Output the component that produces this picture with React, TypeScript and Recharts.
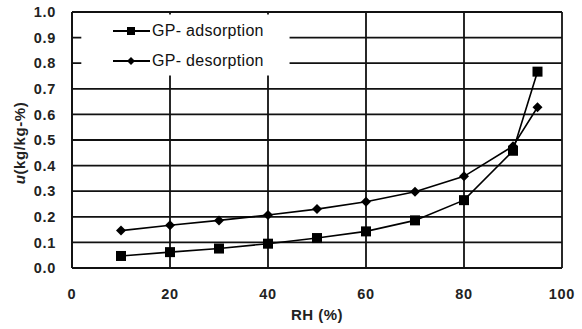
import React from 'react';
import { LineChart, Line, XAxis, YAxis, CartesianGrid, ReferenceArea } from 'recharts';

const rhValues = [10, 20, 30, 40, 50, 60, 70, 80, 90, 95];
const adsorption = [0.047, 0.062, 0.076, 0.095, 0.117, 0.143, 0.186, 0.265, 0.458, 0.767];
const desorption = [0.146, 0.167, 0.186, 0.207, 0.23, 0.259, 0.298, 0.358, 0.476, 0.628];
const xTicks = [0, 20, 40, 60, 80, 100];
const yTicks = [0, 0.1, 0.2, 0.3, 0.4, 0.5, 0.6, 0.7, 0.8, 0.9, 1.0];
const seriesNames = ['GP- adsorption', 'GP- desorption'];

const data = rhValues.map((rh, i) => ({ rh, ads: adsorption[i], des: desorption[i] }));

const FONT = '"Liberation Sans", Arial, sans-serif';

const SquareDot = (props: any) => {
  const { cx, cy, index } = props;
  if (cx == null || cy == null) return <g key={`s${index}`} />;
  return <rect key={`s${index}`} x={cx - 5} y={cy - 5} width={10} height={10} fill="#000" />;
};

const DiamondDot = (props: any) => {
  const { cx, cy, index } = props;
  if (cx == null || cy == null) return <g key={`d${index}`} />;
  const r = 5;
  return (
    <path
      key={`d${index}`}
      d={`M${cx},${cy - r} L${cx + r},${cy} L${cx},${cy + r} L${cx - r},${cy} Z`}
      fill="#000"
    />
  );
};

const tickStyle = { fill: '#222', fontSize: 14.5, fontWeight: 'bold', fontFamily: FONT, letterSpacing: 0.7 };

const LegendBox = () => (
  <div
    style={{
      position: 'absolute',
      left: 112,
      top: 16,
      fontFamily: FONT,
      fontSize: 16,
      letterSpacing: 0.3,
      color: '#111',
      pointerEvents: 'none',
    }}
  >
    {seriesNames.map((name, i) => (
      <div key={name} style={{ display: 'flex', alignItems: 'center', height: 30 }}>
        <svg width={38} height={14} style={{ marginRight: 2 }}>
          <line x1={1} y1={7} x2={38} y2={7} stroke="#000" strokeWidth={1.8} />
          {i === 0 ? (
            <rect x={15} y={3} width={8} height={8} fill="#000" />
          ) : (
            <path d="M19,3 L23,7 L19,11 L15,7 Z" fill="#000" />
          )}
        </svg>
        <span>{name}</span>
      </div>
    ))}
  </div>
);

export default function App() {
  return (
    <div style={{ position: 'absolute', left: 0, top: 0, width: 582, height: 329, background: '#fff' }}>
      <LineChart
        width={582}
        height={329}
        data={data}
        margin={{ top: 12, right: 20, bottom: 0, left: 12 }}
      >
        <CartesianGrid stroke="#111" strokeWidth={1.8} />
        <XAxis
          dataKey="rh"
          type="number"
          domain={[0, 100]}
          ticks={xTicks}
          height={61}
          tickSize={0}
          tickMargin={21}
          axisLine={{ stroke: '#111', strokeWidth: 1.8 }}
          tick={tickStyle}
          label={{
            value: 'RH (%)',
            position: 'insideBottom',
            offset: 9,
            fill: '#222',
            fontSize: 15,
            fontWeight: 'bold',
            fontFamily: FONT,
            letterSpacing: 0.5,
          }}
        />
        <YAxis
          type="number"
          domain={[0, 1]}
          ticks={yTicks}
          width={60}
          tickSize={0}
          tickMargin={16}
          interval={0}
          axisLine={{ stroke: '#111', strokeWidth: 1.8 }}
          tickFormatter={(v: number) => v.toFixed(1)}
          tick={tickStyle}
          label={{
            content: () => (
              <text
                x={19}
                y={143}
                transform="rotate(-90 19 143)"
                textAnchor="middle"
                dominantBaseline="central"
                fill="#222"
                fontSize={15}
                fontWeight="bold"
                fontFamily={FONT}
                letterSpacing={0.6}
              >
                <tspan fontStyle="italic">u</tspan>
                <tspan>(kg/kg-%)</tspan>
              </text>
            ),
          }}
        />
        <ReferenceArea x1={1.9} x2={44.4} y1={0.752} y2={0.99} fill="#fff" fillOpacity={1} stroke="none" />
        <Line
          dataKey="ads"
          name={seriesNames[0]}
          stroke="#000"
          strokeWidth={1.6}
          dot={SquareDot}
          activeDot={false}
          isAnimationActive={false}
        />
        <Line
          dataKey="des"
          name={seriesNames[1]}
          stroke="#000"
          strokeWidth={1.6}
          dot={DiamondDot}
          activeDot={false}
          isAnimationActive={false}
        />
      </LineChart>
      <LegendBox />
    </div>
  );
}
